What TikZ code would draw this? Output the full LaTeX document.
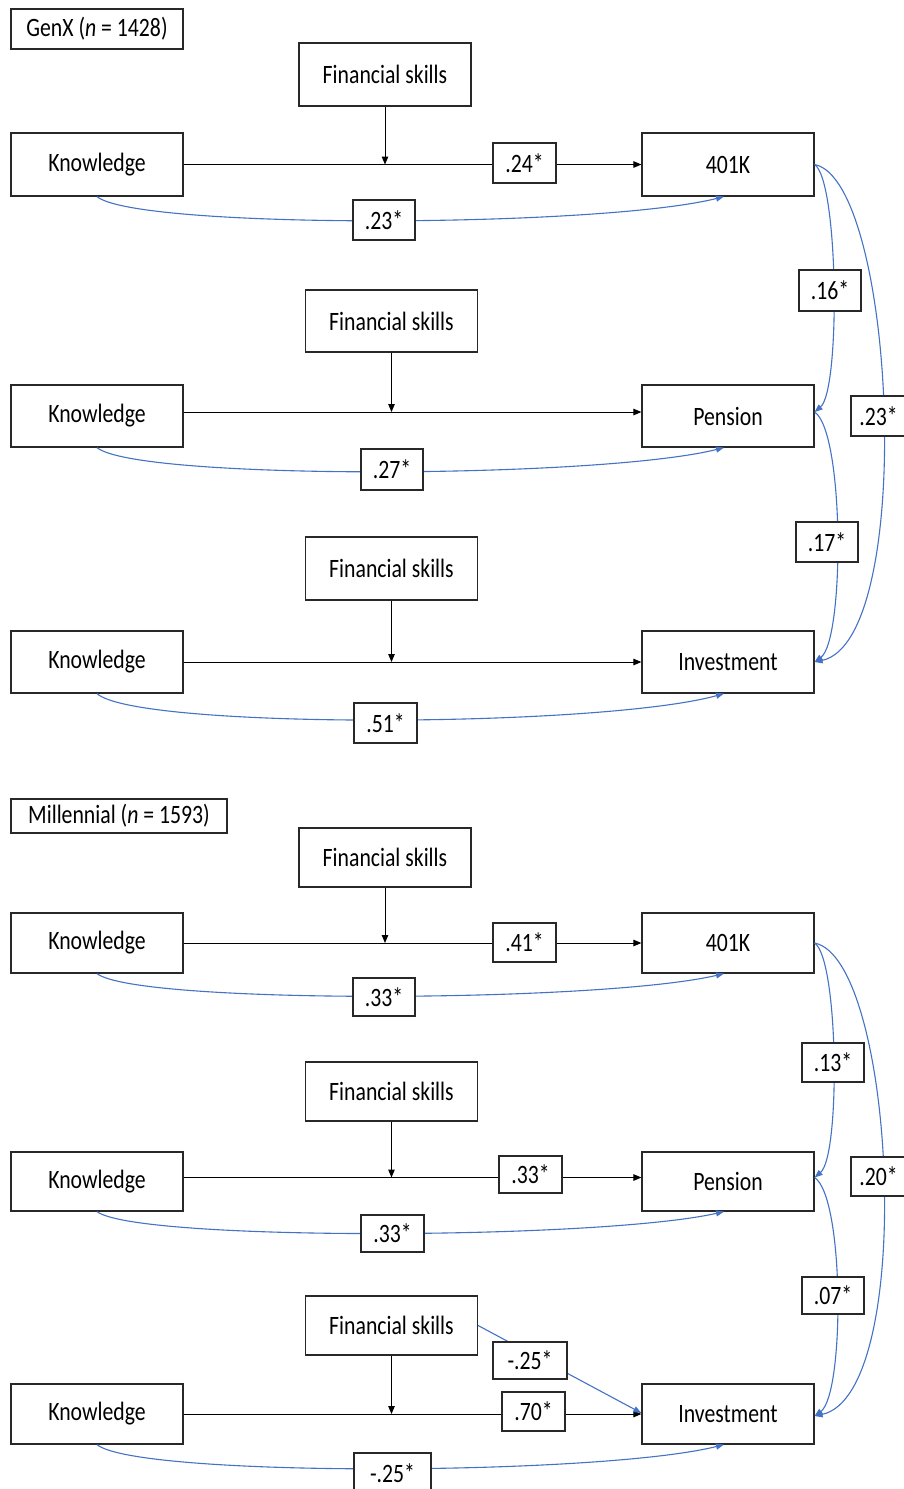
\documentclass[tikz,border=0pt]{standalone}
\usepackage{fontspec}
\setmainfont{Carlito}[FakeStretch=0.82]
\usetikzlibrary{arrows.meta}
\definecolor{lineblue}{RGB}{68,114,196}
\definecolor{boxline}{RGB}{40,40,40}
\begin{document}
\begin{tikzpicture}[x=1pt,y=-1pt,
  box/.style={draw=boxline, line width=1.2pt, minimum width=172pt, minimum height=62pt, inner sep=0pt, font=\fontsize{26.5}{30}\selectfont},
  lab/.style={draw=boxline, fill=white, line width=1.2pt, minimum width=62pt, minimum height=40pt, inner sep=0pt, font=\fontsize{26.5}{30}\selectfont},
  arr/.style={draw=black, line width=1pt, -{Triangle[length=8pt,width=6.5pt]}},
  barr/.style={draw=lineblue, line width=1.1pt, -{Triangle[length=8pt,width=6pt]}},
]
\useasboundingbox (0,0) rectangle (904,1489);
\fill[white] (0,0) rectangle (904,1489);

% ---------------- GenX ----------------
\node[box, minimum height=63pt] (fsA) at (385,74.5) {Financial skills};
\node[box, minimum height=63pt] (kA) at (97,164.5) {Knowledge};
\node[box, minimum height=63pt] (tA) at (728,164.5) {401K};
\node[box] (fsB) at (391.5,321) {Financial skills};
\node[box] (kB) at (97,416) {Knowledge};
\node[box] (pB) at (728,416) {Pension};
\node[box, minimum height=63pt] (fsC) at (391.5,568.5) {Financial skills};
\node[box] (kC) at (97,662) {Knowledge};
\node[box] (iC) at (728,662) {Investment};

\coordinate (rowB) at ([yshift=4pt]kB.east);
\coordinate (pBin) at ([yshift=4pt]pB.west);
\coordinate (pBr) at ([yshift=4pt]pB.east);

\draw[arr] (kA.east) -- (tA.west);
\draw[arr] (fsA.south) -- (fsA.south |- kA.east);
\draw[arr] (rowB) -- (pBin);
\draw[arr] (fsB.south) -- (fsB.south |- rowB);
\draw[arr] (kC.east) -- (iC.west);
\draw[arr] (fsC.south) -- (fsC.south |- kC.east);

\draw[barr] (kA.south) .. controls +(40,33) and +(-124,31) .. ([xshift=-4pt]tA.south);
\draw[barr] (kB.south) .. controls +(40,33) and +(-124,31) .. ([xshift=-4pt]pB.south);
\draw[barr] (kC.south) .. controls +(40,36) and +(-124,34) .. ([xshift=-4pt]iC.south);

\draw[barr] (tA.east) .. controls +(24,16) and +(26,-22) .. (pBr);
\draw[barr] (tA.east) .. controls +(81,16) and +(102,-22) .. (iC.east);
\draw[barr] (pBr) .. controls +(30,20) and +(30,-22) .. (iC.east);

\node[lab, minimum width=172pt] (genx) at (97,29) {GenX (\textit{n} = 1428)};
\node[lab, minimum width=63pt] (l24) at (524.5,163) {.24*};
\node[lab] (l23) at (384,220) {.23*};
\node[lab, minimum height=41pt] (l16) at (830,290.5) {.16*};
\node[lab, minimum width=55pt] (l23r) at (878.5,416) {.23*};
\node[lab, minimum height=41pt] (l27) at (392,469.5) {.27*};
\node[lab] (l17) at (827,542) {.17*};
\node[lab, minimum width=63pt] (l51) at (385.5,723) {.51*};

% ---------------- Millennial ----------------
\node[box, minimum height=59pt] (fsD) at (385,857.5) {Financial skills};
\node[box, minimum height=60pt] (kD) at (97,943) {Knowledge};
\node[box, minimum height=60pt] (tD) at (728,943) {401K};
\node[box, minimum height=59pt] (fsE) at (391.5,1091.5) {Financial skills};
\node[box, minimum height=59pt] (kE) at (97,1181.5) {Knowledge};
\node[box, minimum height=59pt] (pE) at (728,1181.5) {Pension};
\node[box, minimum height=59pt] (fsF) at (391.5,1325.5) {Financial skills};
\node[box, minimum height=60pt] (kF) at (97,1414) {Knowledge};
\node[box, minimum height=60pt] (iF) at (728,1414) {Investment};

\coordinate (rowE) at ([yshift=4pt]kE.east);
\coordinate (pEin) at ([yshift=4pt]pE.west);
\coordinate (pEr) at ([yshift=4pt]pE.east);

\draw[arr] (kD.east) -- (tD.west);
\draw[arr] (fsD.south) -- (fsD.south |- kD.east);
\draw[arr] (rowE) -- (pEin);
\draw[arr] (fsE.south) -- (fsE.south |- rowE);
\draw[arr] (kF.east) -- (iF.west);
\draw[arr] (fsF.south) -- (fsF.south |- kF.east);
\draw[barr] (fsF.east) -- ([yshift=1pt]iF.west);

\draw[barr] (kD.south) .. controls +(40,31) and +(-124,29) .. ([xshift=-4pt]tD.south);
\draw[barr] (kE.south) .. controls +(40,30) and +(-124,28) .. ([xshift=-4pt]pE.south);
\draw[barr] (kF.south) .. controls +(40,33) and +(-124,31) .. ([xshift=-4pt]iF.south);

\draw[barr] (tD.east) .. controls +(24,16) and +(26,-22) .. (pEr);
\draw[barr] (tD.east) .. controls +(81,16) and +(102,-22) .. ([yshift=-2pt]iF.east);
\draw[barr] (pEr) .. controls +(30,20) and +(30,-22) .. ([yshift=-2pt]iF.east);

\node[lab, minimum width=216pt, minimum height=34pt] (mill) at (119,816) {Millennial (\textit{n} = 1593)};
\node[lab, minimum width=63pt, minimum height=39pt] (l41) at (524.5,942.5) {.41*};
\node[lab, minimum height=38pt] (l33a) at (384,997) {.33*};
\node[lab, minimum height=39pt] (l13) at (833,1062.5) {.13*};
\node[lab, minimum width=55pt, minimum height=39pt] (l20) at (878.5,1176.5) {.20*};
\node[lab, minimum width=63pt, minimum height=37pt] (l33b) at (530.5,1174.5) {.33*};
\node[lab, minimum width=63pt, minimum height=37pt] (l33c) at (392.5,1233.5) {.33*};
\node[lab, minimum height=37pt] (l07) at (833,1295.5) {.07*};
\node[lab, minimum width=74pt, minimum height=37pt] (lm25) at (530,1360.5) {-.25*};
\node[lab, minimum width=63pt, minimum height=39pt] (l70) at (533.5,1411.5) {.70*};
\node[lab, minimum width=77pt, minimum height=40pt] (lm25b) at (392.5,1473) {-.25*};
\end{tikzpicture}
\end{document}
